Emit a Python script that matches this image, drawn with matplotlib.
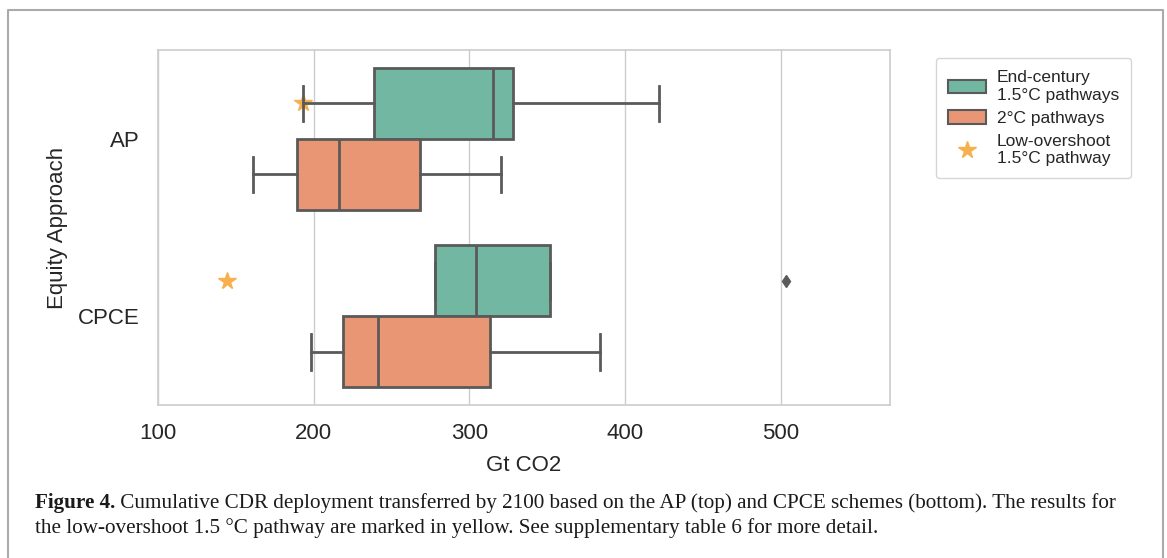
import numpy as np
import matplotlib
matplotlib.use('Agg')
import matplotlib.pyplot as plt
from matplotlib.patches import Patch
from matplotlib.lines import Line2D

# equity approaches on the y axis
approaches = ['AP', 'CPCE']

# end-century 1.5C pathways: box summaries (Gt CO2)
ec_whislo = [193, 278]
ec_q1 = [239, 278]
ec_med = [315, 304]
ec_q3 = [328, 352]
ec_whishi = [422, 352]
ec_fliers = [[], [503]]

# 2C pathways
tc_whislo = [161, 198]
tc_q1 = [189, 219]
tc_med = [216, 241]
tc_q3 = [268, 313]
tc_whishi = [320, 384]
tc_fliers = [[], []]

# low-overshoot 1.5C pathway (single value per approach)
low_overshoot = [193, 144]

xticks = [100, 200, 300, 400, 500]

green = '#72b7a1'
orange = '#e99675'
star_col = '#f6b04e'
gray = '#5a5a5a'

sans = ['Liberation Sans', 'DejaVu Sans']
serif = ['Liberation Serif', 'DejaVu Serif']

W, H = 1167, 558
fig = plt.figure(figsize=(W/100., H/100.), dpi=100)
ax = fig.add_axes([158./W, 1-405./H, (890-158.)/W, (405-50.)/H])

def stats(lo, q1, med, q3, hi, fl):
	out = []
	for i in range(len(lo)):
		out.append(dict(whislo=lo[i], q1=q1[i], med=med[i], q3=q3[i], whishi=hi[i], fliers=fl[i]))
	return out

pos = np.arange(len(approaches))
for st, col, off in [(stats(ec_whislo, ec_q1, ec_med, ec_q3, ec_whishi, ec_fliers), green, -0.2),
		(stats(tc_whislo, tc_q1, tc_med, tc_q3, tc_whishi, tc_fliers), orange, 0.2)]:
	ax.bxp(st, positions=pos + off, widths=0.4, vert=False, patch_artist=True,
		boxprops=dict(facecolor=col, edgecolor=gray, lw=2),
		medianprops=dict(color=gray, lw=2),
		whiskerprops=dict(color=gray, lw=2),
		capprops=dict(color=gray, lw=2),
		flierprops=dict(marker='d', markerfacecolor=gray, markeredgecolor=gray, markersize=6),
		zorder=3)

# star for the low-overshoot pathway, sits under the whisker caps
ax.plot(low_overshoot, pos - 0.2, ls='none', marker='*', ms=13, color=star_col, mec=star_col, zorder=2)

ax.set_xlim(100, 570)
ax.set_ylim(1.5, -0.5)
ax.set_xticks(xticks)
ax.set_yticks(pos)
ax.set_yticklabels(approaches)
ax.grid(axis='x', color='#cccccc', lw=1, zorder=0)
ax.set_axisbelow(True)
for s in ax.spines.values():
	s.set_color('#cccccc')
	s.set_linewidth(1.2)
ax.tick_params(length=0, pad=13, labelsize=16, labelcolor='#262626')
for t in ax.get_xticklabels() + ax.get_yticklabels():
	t.set_family(sans)
ax.set_xlabel('Gt CO2', fontsize=16, family=sans, color='#262626', labelpad=8)
ax.set_ylabel('Equity Approach', fontsize=16, family=sans, color='#262626', labelpad=7)

handles = [Patch(facecolor=green, edgecolor=gray, lw=1.5),
	Patch(facecolor=orange, edgecolor=gray, lw=1.5),
	Line2D([], [], ls='none', marker='*', ms=13, color=star_col)]
labels = ['End-century\n1.5°C pathways', '2°C pathways', 'Low-overshoot\n1.5°C pathway']
leg = fig.legend(handles, labels, loc='upper left', bbox_to_anchor=(936./W, 1-58./H),
	prop=dict(family=sans, size=12.5), handlelength=2.2, handleheight=0.8,
	labelspacing=0.45, borderpad=0.7, handletextpad=0.6, borderaxespad=0,
	frameon=True, fancybox=True)
leg.get_frame().set_edgecolor('#cccccc')
for t in leg.get_texts():
	t.set_color('#262626')

# outer frame of the published figure (open at the bottom)
fig.add_artist(Line2D([8./W, 8./W, 1163./W, 1163./W], [0, 1-9.5/H, 1-9.5/H, 0],
	transform=fig.transFigure, color='#aaaaaa', lw=1.5))

# caption, sized so line 1 spans the same width as in the paper
line1 = 'Cumulative CDR deployment transferred by 2100 based on the AP (top) and CPCE schemes (bottom). The results for'
line2 = 'the low-overshoot 1.5 °C pathway are marked in yellow. See supplementary table 6 for more detail.'
r = fig.canvas.get_renderer()
fs = 13.0
for k in range(3):
	tb = fig.text(35./W, 1-508./H, 'Figure 4.', family=serif, weight='bold', size=fs, va='baseline')
	wb = tb.get_window_extent(r).width
	tr = fig.text(0, 0, ' ' + line1, family=serif, size=fs, va='baseline')
	wr = tr.get_window_extent(r).width
	tb.remove()
	tr.remove()
	fs = fs * 1083. / (wb + wr)
tb = fig.text(35./W, 1-508./H, 'Figure 4.', family=serif, weight='bold', size=fs, va='baseline', color='#1a1a1a')
wb = tb.get_window_extent(r).width
fig.text((35. + wb)/W, 1-508./H, ' ' + line1, family=serif, size=fs, va='baseline', color='#1a1a1a')
fig.text(35./W, 1-533./H, line2, family=serif, size=fs, va='baseline', color='#1a1a1a')

fig.savefig('out.png', dpi=100)
